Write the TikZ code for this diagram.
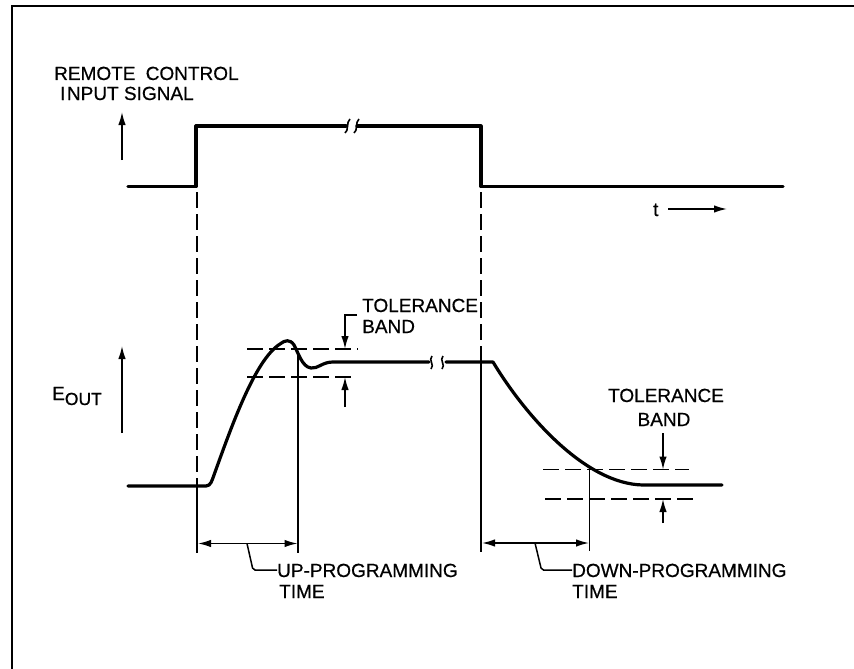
\documentclass[tikz,border=0pt]{standalone}
\usepackage{fontspec}
\setmainfont{Liberation Sans}
\newfontfamily\lblfont{Liberation Sans}[FakeBold=0.6]
\usetikzlibrary{arrows.meta}
\begin{document}
\begin{tikzpicture}[x=1pt,y=-1pt,
  sig/.style={line width=3.2pt, line join=round, line cap=round},
  thin/.style={line width=1.5pt},
  brk/.style={line width=1.6pt},
  dsh/.style={line width=1.5pt, dash pattern=on 16pt off 6pt},
  tip/.style={-{Latex[length=13pt,width=7.5pt]}},
  tips/.style={{Latex[length=13pt,width=7.5pt]}-{Latex[length=13pt,width=7.5pt]}},
  frame/.style={line width=2.6pt},
  lbl/.style={inner sep=0pt, anchor=base west, font=\lblfont\fontsize{19}{21}\selectfont},
  clbl/.style={inner sep=0pt, anchor=base, font=\lblfont\fontsize{19}{21}\selectfont}]
\useasboundingbox (0,0) rectangle (854,669);
% frame
\draw[frame] (12,675) -- (12,6) -- (860,6);

% ---------- input signal ----------
\node[lbl] (rc1) at (54,80) {REMOTE\hspace{5pt} CONTROL};
\node[lbl] (rc2) at (60,100) {I\hspace{1.5pt}NPUT SIGNAL};
\coordinate (ra0) at (122,160); \coordinate (ra1) at (122,112);
\draw[thin,tip] (ra0) -- (ra1);

\coordinate (s0) at (128,186.5); \coordinate (s1) at (196,186.5);
\coordinate (s2) at (196,126);   \coordinate (s3) at (346,126);
\coordinate (s4) at (357,126);   \coordinate (s5) at (481,126);
\coordinate (s6) at (481,186.5); \coordinate (s7) at (783,186.5);
\draw[sig] (s0) -- (s1) -- (s2) -- (s3);
\draw[sig] (s4) -- (s5) -- (s6) -- (s7);
\draw[brk] (345,133) .. controls (349,131) and (346,122) .. (350,119);
\draw[brk] (354,133) .. controls (358,131) and (355,122) .. (359,119);

\node[lbl] (tt) at (653,216) {t};
\coordinate (t0) at (668,209); \coordinate (t1) at (727,209);
\draw[thin,tip] (t0) -- (t1);

% ---------- timing verticals ----------
\draw[dsh] (197,192) -- (197,486);
\draw[thin] (197,486) -- (197,553);
\draw[dsh] (481,192) -- (481,362);
\draw[thin] (481,362) -- (481,552);

% ---------- output ----------
\node[lbl] (eo) at (52,400) {E\raisebox{-5pt}{\fontsize{17.5}{20}\selectfont OUT}};
\coordinate (ea0) at (122,433); \coordinate (ea1) at (122,346);
\draw[thin,tip] (ea0) -- (ea1);

\draw[sig] (128,486) -- (206,486)
  .. controls (211,486) and (212,480) .. (214,475)
  .. controls (232,425) and (255,360) .. (280,344)
  .. controls (285,340) and (290,339) .. (294,345)
  .. controls (298,352) and (302,367) .. (311,368)
  .. controls (318,369) and (322,362) .. (333,362)
  -- (429,362);
\draw[brk] (432,356) .. controls (428,360) and (435,365) .. (431,369);
\draw[brk] (443,356) .. controls (439,360) and (446,365) .. (442,369);
\draw[sig] (446,362) -- (493,362)
  .. controls (525,415) and (585,484) .. (643,485)
  -- (722,485);

% up-programming tolerance band
\draw[dsh] (247,349) -- (358,349);
\draw[dsh] (247,377) -- (356,377);
\coordinate (ub0) at (357,315); \coordinate (ub1) at (345,315); \coordinate (ub2) at (345,349);
\draw[thin,tip] (ub0) -- (ub1) -- (ub2);
\coordinate (uc0) at (345,407); \coordinate (uc1) at (345,377);
\draw[thin,tip] (uc0) -- (uc1);
\node[lbl] (tb1a) at (362,312) {TOLERANCE};
\node[lbl] (tb1b) at (362,333) {BAND};

% down-programming tolerance band
\draw[dsh] (543,469.5) -- (689,469.5);
\draw[dsh] (545,499) -- (693,499);
\coordinate (db0) at (663,433); \coordinate (db1) at (663,469.5);
\draw[thin,tip] (db0) -- (db1);
\coordinate (dc0) at (663,523); \coordinate (dc1) at (663,499);
\draw[thin,tip] (dc0) -- (dc1);
\node[clbl] (tb2a) at (666,402) {TOLERANCE};
\node[clbl] (tb2b) at (664,426) {BAND};

% settle verticals
\draw[thin] (298,353) -- (298,553);
\draw[thin] (589.5,470) -- (589.5,551);

% dimension arrows
\coordinate (u0) at (198,543.5); \coordinate (u1) at (297.5,543.5);
\draw[thin,tips] (u0) -- (u1);
\coordinate (d0) at (482,543); \coordinate (d1) at (589,543);
\draw[thin,tips] (d0) -- (d1);

% leaders and labels
\node[lbl] (up1) at (277,577) {UP-PROGRAMMING};
\node[lbl] (up2) at (279,598) {TIME};
\draw[thin,rounded corners=2pt] (247,543.5) -- (253,570) -- (up1.west |- 0,570);
\node[lbl] (dn1) at (572,577) {DOWN-PROGRAMMING};
\node[lbl] (dn2) at (572,598) {TIME};
\draw[thin,rounded corners=2pt] (535,543) -- (541.5,570) -- (dn1.west |- 0,570);
\end{tikzpicture}
\end{document}
